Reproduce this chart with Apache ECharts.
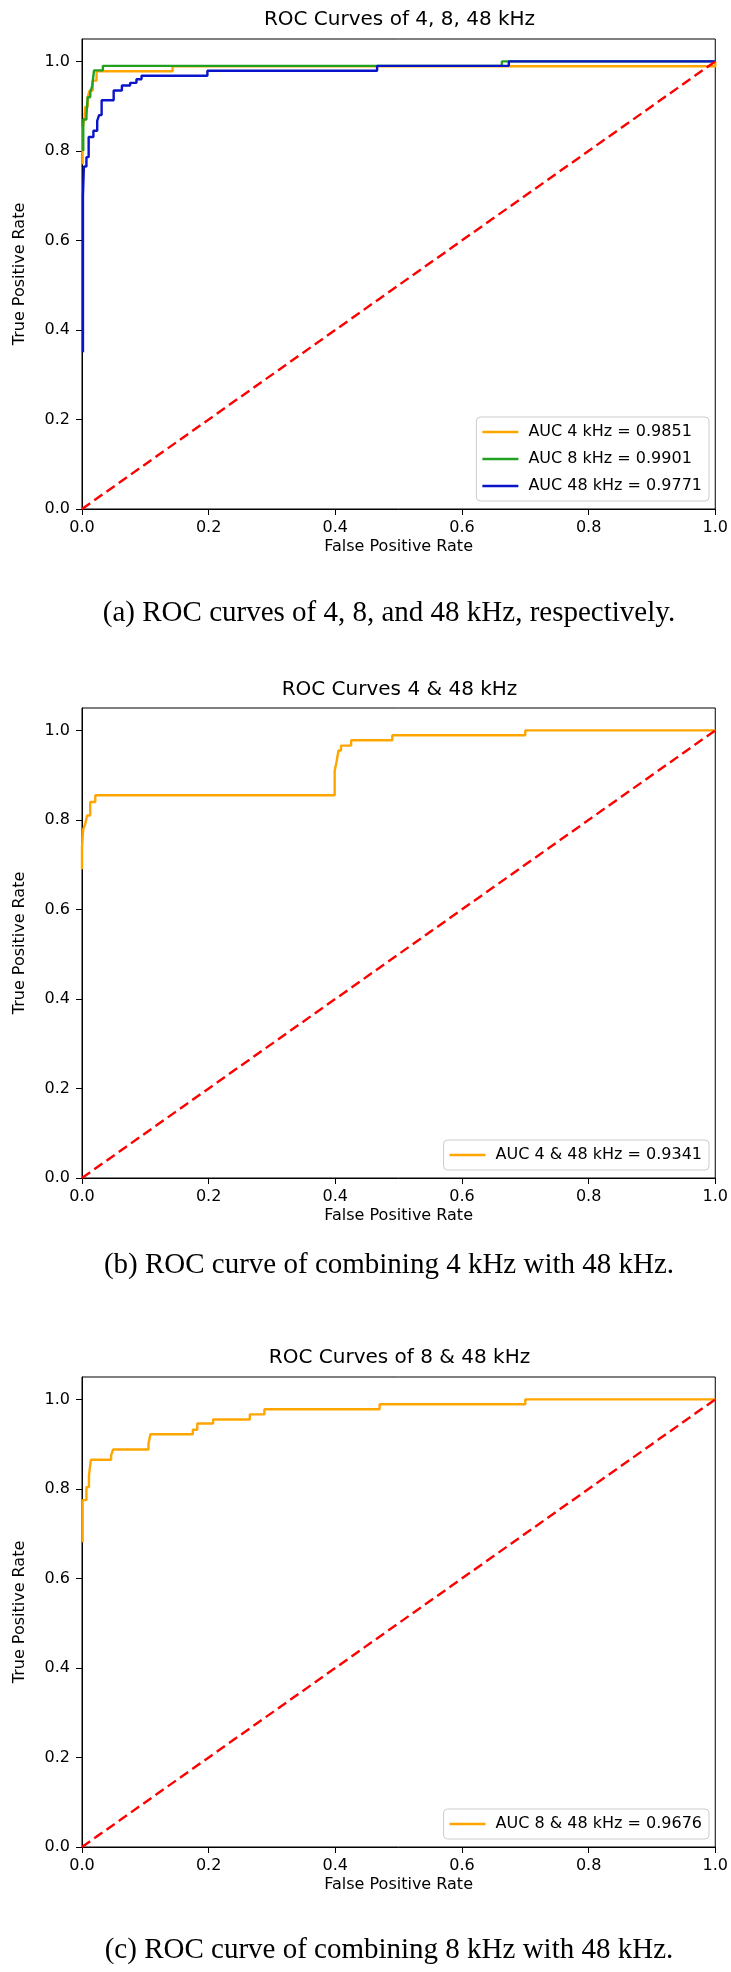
<!DOCTYPE html>
<html>
<head>
<meta charset="utf-8">
<title>ROC curves</title>
<script src="https://cdn.jsdelivr.net/npm/echarts@6.0.0/dist/echarts.min.js"></script>
<style>
  html, body { margin: 0; padding: 0; background: #fff; }
  #chart { width: 731px; height: 1972px; }
</style>
</head>
<body>
<div id="chart"></div>
<script>
// axis ticks
const xTicks = [0, 0.2, 0.4, 0.6, 0.8, 1.0];
const yTicks = [0, 0.2, 0.4, 0.6, 0.8, 1.0];

// diagonal chance line
const diagFpr = [0, 1];
const diagTpr = [0, 1];

// (a) 4 kHz
const fpr4k = [0.001, 0.001, 0.004, 0.004, 0.005, 0.005, 0.009, 0.009, 0.012, 0.012, 0.017, 0.017, 0.023, 0.023, 0.143, 0.143, 1.0, 1.0];
const tpr4k = [0.77, 0.85, 0.85, 0.876, 0.876, 0.898, 0.898, 0.92, 0.92, 0.935, 0.935, 0.957, 0.957, 0.978, 0.978, 0.989, 0.989, 1.0];
// (a) 8 kHz
const fpr8k = [0.002, 0.002, 0.007, 0.007, 0.009, 0.009, 0.013, 0.013, 0.016, 0.016, 0.019, 0.019, 0.033, 0.033, 0.663, 0.663, 1.0];
const tpr8k = [0.80, 0.87, 0.87, 0.88, 0.88, 0.92, 0.92, 0.93, 0.93, 0.945, 0.945, 0.98, 0.98, 0.99, 0.99, 1.0, 1.0];
// (a) 48 kHz
const fpr48k = [0.0015, 0.0015, 0.003, 0.003, 0.007, 0.007, 0.0105, 0.0105, 0.018, 0.018, 0.024, 0.024, 0.027, 0.027, 0.031, 0.031, 0.05, 0.05, 0.063, 0.063, 0.076, 0.076, 0.086, 0.086, 0.094, 0.094, 0.198, 0.198, 0.466, 0.466, 0.674, 0.674, 1.0];
const tpr48k = [0.35, 0.70, 0.70, 0.765, 0.765, 0.786, 0.786, 0.831, 0.831, 0.845, 0.845, 0.867, 0.867, 0.88, 0.88, 0.913, 0.913, 0.935, 0.935, 0.946, 0.946, 0.952, 0.952, 0.96, 0.96, 0.968, 0.968, 0.979, 0.979, 0.99, 0.99, 1.0, 1.0];

// (b) 4 & 48 kHz
const fpr4and48 = [0.0, 0.0, 0.002, 0.002, 0.005, 0.005, 0.008, 0.008, 0.013, 0.013, 0.021, 0.021, 0.399, 0.399, 0.402, 0.402, 0.405, 0.405, 0.409, 0.409, 0.425, 0.425, 0.49, 0.49, 0.70, 0.70, 1.0];
const tpr4and48 = [0.69, 0.74, 0.74, 0.78, 0.78, 0.79, 0.79, 0.81, 0.81, 0.84, 0.84, 0.855, 0.855, 0.91, 0.91, 0.93, 0.93, 0.955, 0.955, 0.966, 0.966, 0.978, 0.978, 0.989, 0.989, 1.0, 1.0];

// (c) 8 & 48 kHz
const fpr8and48 = [0.001, 0.001, 0.007, 0.007, 0.011, 0.011, 0.014, 0.014, 0.046, 0.046, 0.049, 0.049, 0.105, 0.105, 0.108, 0.108, 0.175, 0.175, 0.182, 0.182, 0.207, 0.207, 0.265, 0.265, 0.288, 0.288, 0.47, 0.47, 0.70, 0.70, 1.0];
const tpr8and48 = [0.681, 0.775, 0.775, 0.804, 0.804, 0.83, 0.83, 0.865, 0.865, 0.875, 0.875, 0.888, 0.888, 0.901, 0.901, 0.922, 0.922, 0.932, 0.932, 0.946, 0.946, 0.955, 0.955, 0.9665, 0.9665, 0.978, 0.978, 0.989, 0.989, 1.0, 1.0];

const titles = ['ROC Curves of 4, 8, 48 kHz', 'ROC Curves 4 & 48 kHz', 'ROC Curves of 8 & 48 kHz'];
const captions = [
  '(a) ROC curves of 4, 8, and 48 kHz, respectively.',
  '(b) ROC curve of combining 4 kHz with 48 kHz.',
  '(c) ROC curve of combining 8 kHz with 48 kHz.'
];

const zip = (xs, ys) => xs.map((x, i) => [x, ys[i]]);

const font = 'DejaVu Sans';
const gridTops = [39, 708, 1377];
const plotH = 470;
const titleY = [20, 690, 1358];
const captionY = [613, 1265, 1950];

const chart = echarts.init(document.getElementById('chart'), null, { renderer: 'canvas' });

const grids = gridTops.map(t => ({
  left: 82, top: t, width: 635, height: plotH,
  show: true, borderColor: '#000', borderWidth: 1, backgroundColor: 'transparent'
}));

const xAxes = gridTops.map((t, i) => ({
  type: 'value', gridIndex: i, min: 0, max: 1, interval: 0.2,
  name: 'False Positive Rate', nameLocation: 'middle', nameGap: 30,
  nameTextStyle: { fontFamily: font, fontSize: 16, color: '#000' },
  axisLine: { show: true, onZero: false, lineStyle: { color: '#000', width: 1 } },
  axisTick: { show: true, length: 6, lineStyle: { color: '#000' }, customValues: xTicks },
  axisLabel: { fontFamily: font, fontSize: 16, color: '#000', margin: 11, customValues: xTicks,
               formatter: v => v.toFixed(1) },
  splitLine: { show: false }
}));

const yAxes = gridTops.map((t, i) => ({
  type: 'value', gridIndex: i, min: 0, max: 1.05, interval: 0.2,
  name: 'True Positive Rate', nameLocation: 'middle', nameGap: 54,
  nameTextStyle: { fontFamily: font, fontSize: 16, color: '#000' },
  axisLine: { show: true, onZero: false, lineStyle: { color: '#000', width: 1 } },
  axisTick: { show: true, length: 6, lineStyle: { color: '#000' }, customValues: yTicks },
  axisLabel: { fontFamily: font, fontSize: 16, color: '#000', margin: 12, customValues: yTicks,
               formatter: v => v.toFixed(1) },
  splitLine: { show: false }
}));

function curve(name, idx, xs, ys, color) {
  return {
    type: 'line', name: name, xAxisIndex: idx, yAxisIndex: idx,
    data: zip(xs, ys), symbol: 'none', animation: false,
    lineStyle: { color: color, width: 2.4 }, itemStyle: { color: color }
  };
}
function diagonal(idx) {
  return {
    type: 'line', xAxisIndex: idx, yAxisIndex: idx, data: zip(diagFpr, diagTpr),
    symbol: 'none', animation: false, silent: true, z: 3,
    lineStyle: { color: '#ff0000', width: 2.4, type: [10, 5] }
  };
}

const orange = '#ffa500', green = '#22a022', blue = '#0a14c8';

const series = [
  curve('AUC 4 kHz = 0.9851', 0, fpr4k, tpr4k, orange),
  curve('AUC 8 kHz = 0.9901', 0, fpr8k, tpr8k, green),
  curve('AUC 48 kHz = 0.9771', 0, fpr48k, tpr48k, blue),
  diagonal(0),
  curve('AUC 4 & 48 kHz = 0.9341', 1, fpr4and48, tpr4and48, orange),
  diagonal(1),
  curve('AUC 8 & 48 kHz = 0.9676', 2, fpr8and48, tpr8and48, orange),
  diagonal(2)
];

const legendBase = {
  orient: 'vertical', right: 22, icon: 'path://M0,5.8 L36,5.8 L36,8.2 L0,8.2 Z',
  itemWidth: 36, itemHeight: 14, itemGap: 9,
  padding: [6, 7, 6, 6],
  backgroundColor: 'rgba(255,255,255,0.85)', borderColor: '#cccccc', borderWidth: 1, borderRadius: 4,
  textStyle: { fontFamily: font, fontSize: 16, color: '#000', lineHeight: 18, padding: [0, 0, 0, 5] }
};
const legends = [
  Object.assign({}, legendBase, { bottom: 1972 - 501, data: ['AUC 4 kHz = 0.9851', 'AUC 8 kHz = 0.9901', 'AUC 48 kHz = 0.9771'] }),
  Object.assign({}, legendBase, { bottom: 1972 - 1170, data: ['AUC 4 & 48 kHz = 0.9341'] }),
  Object.assign({}, legendBase, { bottom: 1972 - 1839, data: ['AUC 8 & 48 kHz = 0.9676'] })
];

const graphics = [];
titles.forEach((t, i) => {
  graphics.push({
    type: 'text', x: 399.5, y: titleY[i], silent: true,
    style: { text: t, font: '20px "DejaVu Sans"', fill: '#000', align: 'center', verticalAlign: 'middle' }
  });
});
captions.forEach((c, i) => {
  graphics.push({
    type: 'text', x: 389, y: captionY[i], silent: true,
    style: { text: c, font: '29px "Liberation Serif"', fill: '#000', align: 'center', verticalAlign: 'middle' }
  });
});

chart.setOption({
  animation: false,
  backgroundColor: '#fff',
  grid: grids,
  xAxis: xAxes,
  yAxis: yAxes,
  legend: legends,
  graphic: graphics,
  series: series
});
</script>
</body>
</html>
